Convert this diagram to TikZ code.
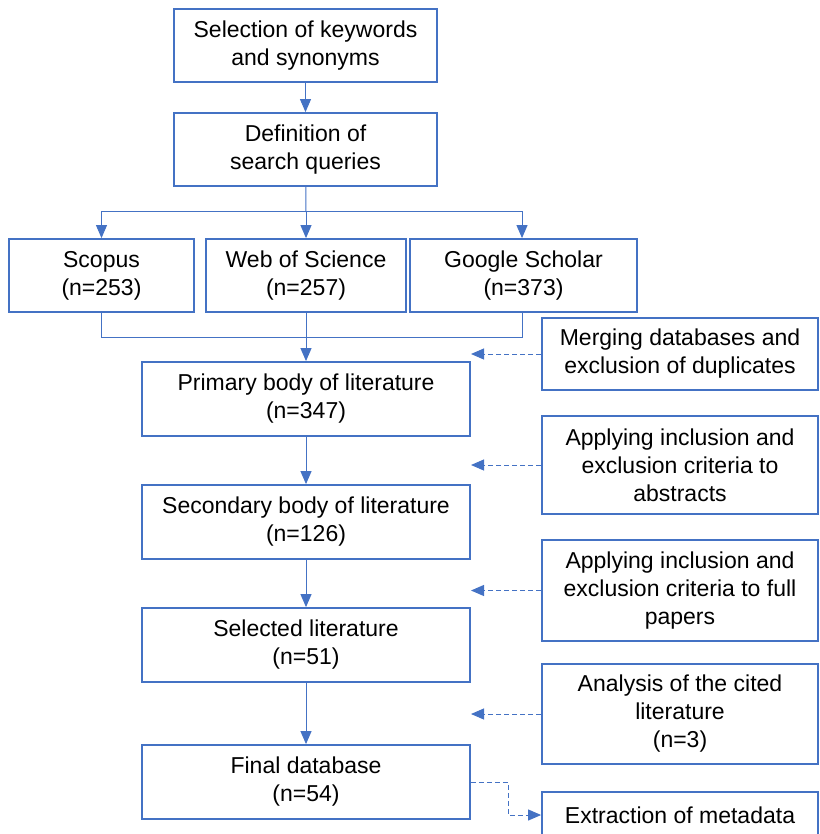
\documentclass[tikz,border=0pt]{standalone}
\usepackage{fontspec}
\setmainfont{Liberation Sans}
\usetikzlibrary{arrows.meta}
\definecolor{flowblue}{HTML}{4472C4}
\begin{document}
\begin{tikzpicture}[x=1pt,y=-1pt]
    \tikzstyle{box}=[draw=flowblue,line width=1.8pt,rectangle,align=center,inner sep=0pt,font=\fontsize{23}{28}\selectfont]
    \tikzstyle{stepbox}=[box,minimum width=263pt,minimum height=73pt]
    \tikzstyle{dbbox}=[box,minimum height=73pt]
    \tikzstyle{bodybox}=[box,minimum width=328pt,minimum height=74pt]
    \tikzstyle{sidebox}=[box,minimum width=276pt]
    \tikzstyle{flow}=[draw=flowblue,line width=1pt,-{Triangle[length=13pt,width=11pt]}]
    \tikzstyle{line}=[draw=flowblue,line width=1pt]
    \tikzstyle{dashflow}=[flow,dash pattern=on 5pt off 3pt]

    \useasboundingbox (0,0) rectangle (819,834);

    \node[stepbox] at (305.5,45.5) (kw) {Selection of keywords\\and synonyms};
    \node[stepbox] at (305.5,149.5) (query) {Definition of\\search queries};

    \node[dbbox,minimum width=185pt] at (101.5,275.5) (scopus) {Scopus\\(n=253)};
    \node[dbbox,minimum width=200pt] at (306,275.5) (wos) {Web of Science\\(n=257)};
    \node[dbbox,minimum width=227pt] at (523.5,275.5) (gs) {Google Scholar\\(n=373)};

    \node[bodybox] at (306,399) (primary) {Primary body of literature\\(n=347)};
    \node[bodybox] at (306,522) (secondary) {Secondary body of literature\\(n=126)};
    \node[bodybox] at (306,645) (selected) {Selected literature\\(n=51)};
    \node[bodybox] at (306,782) (final) {Final database\\(n=54)};

    \node[sidebox,minimum height=72pt] at (680,354) (merge) {Merging databases and\\exclusion of duplicates};
    \node[sidebox,minimum height=98pt] at (680,465) (abstracts) {Applying inclusion and\\exclusion criteria to\\abstracts};
    \node[sidebox,minimum height=101pt] at (680,590.5) (fulltext) {Applying inclusion and\\exclusion criteria to full\\papers};
    \node[sidebox,minimum height=100pt] at (680,714) (cited) {Analysis of the cited\\literature\\(n=3)};
    \node[sidebox,minimum height=46pt] at (680,815) (meta) {Extraction of metadata};

    \coordinate (split) at (306,212);
    \coordinate (join) at (306,337);

    % search queries into the three databases
    \draw[line] (query) -- (split);
    \draw[line] (102,212) -- (522,212);
    \draw[flow] (split) -| (scopus);
    \draw[flow] (split) -- (wos);
    \draw[flow] (split) -| ([xshift=-1.5pt]gs.north);

    % databases merged
    \draw[line] (scopus) |- (join);
    \draw[line] ([xshift=-1.5pt]gs.south) |- (join);
    \draw[line] (wos) -- (join);
    \draw[flow] (join) -- (primary);

    \draw[flow] (kw) -- (query);
    \draw[flow] (primary) -- (secondary);
    \draw[flow] (secondary) -- (selected);
    \draw[flow] (selected) -- (final);

    % side steps
    \draw[dashflow] (merge) -- (471,354);
    \draw[dashflow] (abstracts) -- (471,465);
    \draw[dashflow] (fulltext) -- (471,590.5);
    \draw[dashflow] (cited) -- (471,714);
    \draw[dashflow] (final.east) -- (508,782) |- (meta);
\end{tikzpicture}
\end{document}
